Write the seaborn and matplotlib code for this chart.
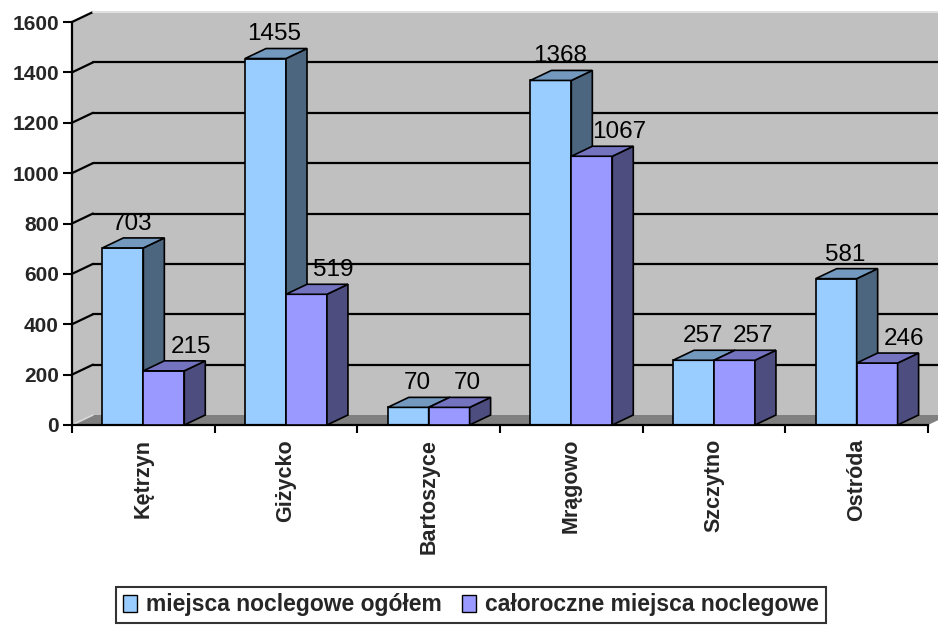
# 3D-looking clustered bars (Excel style) rebuilt with seaborn + a few polygons
import matplotlib
matplotlib.use("Agg")
import pandas as pd
import matplotlib.pyplot as plt
import seaborn as sns
from matplotlib.patches import Polygon, Patch
from matplotlib.lines import Line2D

miasta = ['Kętrzyn', 'Giżycko', 'Bartoszyce', 'Mrągowo', 'Szczytno', 'Ostróda']
ogolem = [703, 1455, 70, 1368, 257, 581]
caloroczne = [215, 519, 70, 1067, 257, 246]
serie = ['miejsca noclegowe ogółem', 'całoroczne miejsca noclegowe']
y_ticks = [0, 200, 400, 600, 800, 1000, 1200, 1400, 1600]

front = ['#99CCFF', '#9999FF']
top = ['#7399BF', '#7373BF']
side = ['#4D6680', '#4D4D80']


def main():
    df = pd.DataFrame({
        'miasto': miasta * 2,
        'wartosc': ogolem + caloroczne,
        'seria': [serie[0]] * len(miasta) + [serie[1]] * len(miasta),
    })

    sns.set_theme(style='white')
    plt.rcParams['font.family'] = ['Liberation Sans', 'DejaVu Sans']

    W, H = 938, 626
    fig = plt.figure(figsize=(W / 100, H / 100), dpi=100)
    ax = fig.add_axes([72 / W, 1 - 425 / H, 856 / W, 403 / H])

    sns.barplot(data=df, x='miasto', y='wartosc', hue='seria', hue_order=serie,
                palette=front, width=0.574, gap=0, saturation=1, errorbar=None,
                edgecolor='black', linewidth=1.2, legend=False, ax=ax)

    ax.set_xlim(-0.5, 5.5)
    ax.set_ylim(0, 1600)
    ax.patch.set_visible(False)

    # depth of the fake 3D, in data units
    dx = 21 * 6 / 856
    dy = 10 * 1600 / 403
    xr = -0.5 + (W - 72) * 6 / 856

    wall = Polygon([(-0.5, 0), (-0.5, 1600), (-0.5 + dx, 1600 + dy), (xr, 1600 + dy),
                    (xr, dy), (-0.5 + dx, dy)], closed=True, facecolor='#C0C0C0',
                   edgecolor='none', zorder=0.5, clip_on=False)
    ax.add_patch(wall)
    floor = Polygon([(-0.5, 0), (5.5, 0), (5.5 + dx, dy), (-0.5 + dx, dy)], closed=True,
                    facecolor='#808080', edgecolor='none', zorder=0.6, clip_on=False)
    ax.add_patch(floor)

    for v in y_ticks[1:]:
        ax.add_line(Line2D([-0.5, -0.5 + dx], [v, v + dy], color='black', lw=1.6,
                           zorder=0.7, clip_on=False))
        if v < 1600:
            ax.add_line(Line2D([-0.5 + dx, xr], [v + dy, v + dy], color='black', lw=1.6,
                               zorder=0.7, clip_on=False))
    ax.add_line(Line2D([-0.5 + dx, xr], [1600 + dy, 1600 + dy], color='#E0E0E0', lw=1.5,
                       zorder=0.7, clip_on=False))
    ax.add_line(Line2D([-0.5, -0.5 + dx], [0, dy], color='#D8D8D8', lw=1.2,
                       zorder=0.7, clip_on=False))

    # top and side faces + value labels
    for i, cont in enumerate(ax.containers):
        for j, rect in enumerate(cont):
            x0 = rect.get_x()
            x1 = x0 + rect.get_width()
            h = rect.get_height()
            rect.set_zorder(2 + i)
            ax.add_patch(Polygon([(x1, 0), (x1, h), (x1 + dx, h + dy), (x1 + dx, dy)],
                                 closed=True, facecolor=side[i], edgecolor='black',
                                 lw=1.2, zorder=2.1 + i, clip_on=False))
            ax.add_patch(Polygon([(x0, h), (x1, h), (x1 + dx, h + dy), (x0 + dx, h + dy)],
                                 closed=True, facecolor=top[i], edgecolor='black',
                                 lw=1.2, zorder=2.1 + i, clip_on=False))
            if i == 0:
                off = 6.5
            elif abs(ogolem[j] - caloroczne[j]) < 50:
                off = 13
            else:
                off = 19.5
            ax.annotate(f'{int(h)}', xy=((x0 + x1) / 2, h + dy), xytext=(off, 5.8),
                        textcoords='offset points', ha='center', va='baseline',
                        fontsize=17.5, color='black', zorder=5, annotation_clip=False)

    for s in ['top', 'right']:
        ax.spines[s].set_visible(False)
    for s in ['left', 'bottom']:
        ax.spines[s].set_color('black')
        ax.spines[s].set_linewidth(1.6)

    ax.set_yticks(y_ticks)
    ax.set_yticklabels([str(t) for t in y_ticks], fontsize=15, fontweight='bold')
    ax.tick_params(axis='y', length=6.5, width=1.5, pad=3, color='black', left=True)

    ax.set_xticks(range(len(miasta)))
    ax.set_xticklabels(miasta, rotation=90, fontsize=15.5, fontweight='bold')
    ax.set_xticks([k - 0.5 for k in range(len(miasta) + 1)], minor=True)
    ax.tick_params(axis='x', which='major', length=0, pad=10)
    ax.tick_params(axis='x', which='minor', length=6, width=1.5, color='black',
                   bottom=True, direction='out')
    ax.set_xlabel('')
    ax.set_ylabel('')

    handles = [Patch(facecolor=front[k], edgecolor='black', linewidth=1.0, label=serie[k])
               for k in range(2)]
    leg = fig.legend(handles=handles, loc='center', bbox_to_anchor=(471 / W, 1 - 605 / H),
                     ncol=2, frameon=True, fancybox=False, edgecolor='black',
                     prop={'weight': 'bold', 'size': 16.5}, handlelength=0.6,
                     handleheight=0.75, handletextpad=0.4, columnspacing=0.9,
                     borderpad=0.3, borderaxespad=0)
    leg.get_frame().set_linewidth(1.5)

    fig.savefig('out.png', dpi=100)


if __name__ == '__main__':
    main()
